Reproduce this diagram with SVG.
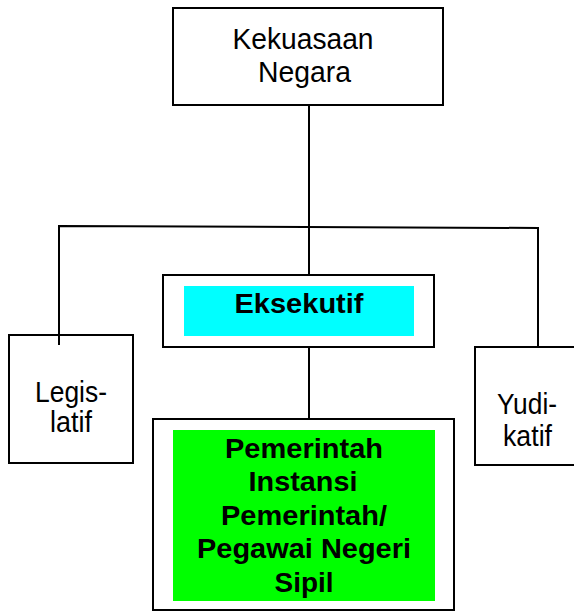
<svg xmlns="http://www.w3.org/2000/svg" width="574" height="611" viewBox="0 0 574 611">
<style>
.box{fill:#fff;stroke:#000;stroke-width:2}
.ln{fill:none;stroke:#000;stroke-width:2}
.t{font-family:"Liberation Sans",Arial,sans-serif;font-size:29px;fill:#000;text-anchor:middle}
.b{font-weight:bold;font-size:28.5px}
</style>
<rect width="574" height="611" fill="#fff"/>
<g id="connectors">
<line class="ln" x1="309" y1="105" x2="309" y2="275"/>
<polyline class="ln" points="59,345 59,226 538,228 538,347"/>
<line class="ln" x1="309" y1="347" x2="309" y2="419"/>
</g>
<g id="kekuasaan">
<rect class="box" x="173" y="8" width="270" height="97"/>
<text class="t" x="303" y="49" textLength="141" lengthAdjust="spacingAndGlyphs">Kekuasaan</text>
<text class="t" x="304.5" y="82" textLength="93" lengthAdjust="spacingAndGlyphs">Negara</text>
</g>
<g id="eksekutif">
<rect class="box" x="163" y="275" width="271" height="72"/>
<rect x="184" y="286" width="230" height="50" fill="#00ffff"/>
<text class="t b" x="299" y="313" textLength="129" lengthAdjust="spacingAndGlyphs">Eksekutif</text>
</g>
<g id="legislatif">
<rect class="box" x="9" y="335" width="124" height="128"/>
<line class="ln" x1="59" y1="335" x2="59" y2="345"/>
<text class="t" x="71" y="402" textLength="72" lengthAdjust="spacingAndGlyphs">Legis-</text>
<text class="t" x="71" y="432" textLength="42" lengthAdjust="spacingAndGlyphs">latif</text>
</g>
<g id="yudikatif">
<rect class="box" x="475" y="347" width="110" height="118"/>
<text class="t" x="527" y="414" textLength="60" lengthAdjust="spacingAndGlyphs">Yudi-</text>
<text class="t" x="527.5" y="446" textLength="49" lengthAdjust="spacingAndGlyphs">katif</text>
</g>
<g id="pemerintah">
<rect class="box" x="153" y="419" width="301" height="191"/>
<rect x="173" y="430" width="262" height="171" fill="#00ff00"/>
<text class="t b" x="304" y="458" textLength="158" lengthAdjust="spacingAndGlyphs">Pemerintah</text>
<text class="t b" x="303" y="491" textLength="109" lengthAdjust="spacingAndGlyphs">Instansi</text>
<text class="t b" x="304" y="525" textLength="166" lengthAdjust="spacingAndGlyphs">Pemerintah/</text>
<text class="t b" x="304" y="558" textLength="214" lengthAdjust="spacingAndGlyphs">Pegawai Negeri</text>
<text class="t b" x="304" y="592" textLength="59" lengthAdjust="spacingAndGlyphs">Sipil</text>
</g>
</svg>
